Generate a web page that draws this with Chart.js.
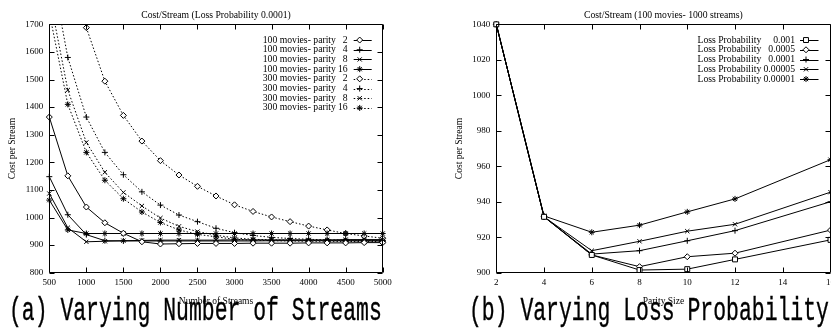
<!DOCTYPE html>
<html><head><meta charset="utf-8">
<script src="https://cdn.jsdelivr.net/npm/chart.js@4.4.1/dist/chart.umd.min.js"></script>
<style>
html,body{margin:0;padding:0;background:#fff;width:831px;height:330px;overflow:hidden;}
body{position:relative;}
.wrap{position:absolute;top:0;width:400px;height:310px;}
#w1{left:0px}
#w2{left:447px}
.cap{position:absolute;top:294px;font-family:"Liberation Mono",monospace;font-size:34px;line-height:34px;white-space:pre;transform-origin:0 0;transform:scaleX(0.63);color:#000;-webkit-text-stroke:0.4px #000;}
#cap1{left:9px}
#cap2{left:469px}
</style></head><body>
<div class="wrap" id="w1"><canvas id="c1" width="400" height="310" style="width:400px;height:310px"></canvas></div>
<div class="wrap" id="w2"><canvas id="c2" width="400" height="310" style="width:400px;height:310px"></canvas></div>
<div class="cap" id="cap1">(a) Varying Number of Streams</div>
<div class="cap" id="cap2">(b) Varying Loss Probability</div>
<script>
// ---------- data: chart (a) ----------
const streams = [500,750,1000,1250,1500,1750,2000,2250,2500,2750,3000,3250,3500,3750,4000,4250,4500,4750,5000];
const m100p2  = [1364,1151,1038,981,943,912,904,905,906,906,906,907,907,907,908,908,908,909,909];
const m100p4  = [1148,1010,938,916,915,915,915,915,915,915,915,915,916,916,916,916,916,916,916];
const m100p8  = [1087,963,912,914,916,917,918,918,918,918,919,919,919,919,919,919,920,920,920];
const m100p16 = [1063,955,942,942,942,942,942,942,942,942,942,942,942,942,942,942,942,942,942];
const m300p2  = [null,null,1688,1494,1370,1277,1206,1154,1113,1078,1046,1022,1002,985,969,955,942,933,925];
const m300p4  = [1938,1580,1364,1236,1155,1093,1045,1009,985,961,945,935,928,924,921,919,918,917,916];
const m300p8  = [1806,1462,1272,1164,1091,1042,998,968,949,936,926,921,919,918,917,916,916,915,915];
const m300p16 = [1742,1410,1236,1135,1068,1020,982,955,939,930,921,918,916,915,914,914,913,913,913];
const seriesA = [m100p2,m100p4,m100p8,m100p16,m300p2,m300p4,m300p8,m300p16];
const keyPrefixA = ['100 movies- parity','100 movies- parity','100 movies- parity','100 movies- parity',
                    '300 movies- parity','300 movies- parity','300 movies- parity','300 movies- parity'];
const keyValueA = ['2','4','8','16','2','4','8','16'];
const xTicksA = [500,1000,1500,2000,2500,3000,3500,4000,4500,5000];
const yTicksA = [800,900,1000,1100,1200,1300,1400,1500,1600,1700];

// ---------- data: chart (b) ----------
const parity = [2,4,6,8,10,12,16];
const loss001    = [1040,931.5,910,901.5,902,907.5,918.5];
const loss0005   = [1040,931.5,910,903.4,909,911,924];
const loss0001   = [1040,931.5,910.5,912.4,918,923.7,940];
const loss00005  = [1040,931.5,912.4,917.7,923.4,927.3,945.4];
const loss00001  = [1040,932,922.8,926.8,934.3,941.6,963.7];
const seriesB = [loss001,loss0005,loss0001,loss00005,loss00001];
const keyValueB = ['0.001','0.0005','0.0001','0.00005','0.00001'];
const xTicksB = [2,4,6,8,10,12,14,16];
const yTicksB = [900,920,940,960,980,1000,1020,1040];

// ---------- styles ----------
const stylesA = [
  {pointStyle:'rectRot',dash:[]},{pointStyle:'cross',dash:[]},{pointStyle:'crossRot',dash:[]},{pointStyle:'star',dash:[]},
  {pointStyle:'rectRot',dash:[1.5,2]},{pointStyle:'cross',dash:[1.5,2]},{pointStyle:'crossRot',dash:[1.5,2]},{pointStyle:'star',dash:[1.5,2]}
];
const stylesB = [{pointStyle:'rect',r:3.5},{pointStyle:'rectRot',r:3},{pointStyle:'cross',r:3},{pointStyle:'crossRot',r:3},{pointStyle:'star',r:3}];

const SERIF = '"Liberation Serif", "Times New Roman", serif';

function fallbackPoint(ctx, style, r, x, y){
  ctx.beginPath();
  if(style==='rect'){const s=r*Math.SQRT1_2; ctx.rect(x-s,y-s,2*s,2*s); ctx.fill(); ctx.stroke(); return;}
  if(style==='rectRot'){ctx.moveTo(x,y-r);ctx.lineTo(x+r,y);ctx.lineTo(x,y+r);ctx.lineTo(x-r,y);ctx.closePath();ctx.fill();ctx.stroke();return;}
  const d=r*Math.SQRT1_2;
  if(style==='cross'||style==='star'){ctx.moveTo(x-r,y);ctx.lineTo(x+r,y);ctx.moveTo(x,y-r);ctx.lineTo(x,y+r);}
  if(style==='crossRot'||style==='star'){ctx.moveTo(x-d,y-d);ctx.lineTo(x+d,y+d);ctx.moveTo(x-d,y+d);ctx.lineTo(x+d,y-d);}
  ctx.stroke();
}

const framePlugin = {
  id:'frame',
  afterDatasetsDraw(chart){
    const {ctx, chartArea:a} = chart;
    const x = chart.scales.x, y = chart.scales.y;
    ctx.save();
    ctx.strokeStyle='#000'; ctx.lineWidth=1; ctx.setLineDash([]);
    const L=Math.round(a.left)+0.5, R=Math.round(a.right)-0.5, T=Math.round(a.top)+0.5, B=Math.round(a.bottom)-0.5;
    const len=5;
    ctx.beginPath();
    ctx.rect(L,T,R-L,B-T);
    x.ticks.forEach(t=>{const px=Math.round(x.getPixelForValue(t.value))+0.5; ctx.moveTo(px,B); ctx.lineTo(px,B-len); ctx.moveTo(px,T); ctx.lineTo(px,T+len);});
    y.ticks.forEach(t=>{const py=Math.round(y.getPixelForValue(t.value))+0.5; ctx.moveTo(L,py); ctx.lineTo(L+len,py); ctx.moveTo(R,py); ctx.lineTo(R-len,py);});
    ctx.stroke();
    ctx.restore();
  }
};

const keyPlugin = {
  id:'key',
  afterDatasetsDraw(chart, args, o){
    const {ctx, chartArea:a} = chart;
    ctx.save();
    chart.data.datasets.forEach((ds,i)=>{
      const yy = a.top + o.top + i*o.step;
      ctx.font = '9.7px ' + SERIF;
      ctx.fillStyle='#000'; ctx.textBaseline='middle';
      ctx.textAlign='left'; ctx.fillText(ds.keyPrefix, a.right - o.prefixOff, yy);
      ctx.textAlign='right'; ctx.fillText(ds.keyValue, a.right - o.textOff, yy);
      const ly = Math.round(yy)+0.5;
      ctx.strokeStyle='#000'; ctx.lineWidth=1;
      ctx.setLineDash(ds.borderDash||[]);
      ctx.beginPath(); ctx.moveTo(a.right-o.lineStart, ly); ctx.lineTo(a.right-o.lineEnd, ly); ctx.stroke();
      ctx.setLineDash([]);
      ctx.fillStyle='#fff';
      const px = a.right - o.markOff;
      if (window.Chart && Chart.helpers && Chart.helpers.drawPoint) {
        Chart.helpers.drawPoint(ctx, {pointStyle: ds.pointStyle, radius: ds.pointRadius, rotation: 0, borderWidth: 1}, px, yy);
      } else {
        fallbackPoint(ctx, ds.pointStyle, ds.pointRadius, px, yy);
      }
    });
    ctx.restore();
  }
};

function makeOptions(cfg){
  return {
    responsive:false, animation:false, devicePixelRatio:1,
    layout:{padding:{left:0,right:cfg.padR,top:0,bottom:0}},
    elements:{line:{tension:0}},
    plugins:{
      legend:{display:false}, tooltip:{enabled:false},
      title:{display:true,text:cfg.title,fullSize:false,color:'#000',
        font:{family:SERIF,size:9.7,weight:'normal'},padding:{top:9.2,bottom:3.5}},
      key:cfg.key
    },
    scales:{
      x:{type:'linear',min:cfg.xMin,max:cfg.xMax,
        grid:{display:false,drawTicks:false},border:{display:false},
        ticks:{color:'#000',font:{family:SERIF,size:9},padding:5,maxRotation:0,autoSkip:false,callback:v=>String(v)},
        afterBuildTicks:s=>{s.ticks = cfg.xTicks.map(v=>({value:v}));},
        afterFit:s=>{s.height=37.3;},
        title:{display:true,text:cfg.xTitle,color:'#000',font:{family:SERIF,size:9.5},padding:{top:0,bottom:2.8}}
      },
      y:{type:'linear',min:cfg.yMin,max:cfg.yMax,
        grid:{display:false,drawTicks:false},border:{display:false},
        ticks:{color:'#000',font:{family:SERIF,size:9},padding:6,autoSkip:false,callback:v=>String(v)},
        afterBuildTicks:s=>{s.ticks = cfg.yTicks.map(v=>({value:v}));},
        afterFit:s=>{s.width=49.3;},
        title:{display:true,text:'Cost per Stream',color:'#000',font:{family:SERIF,size:9.5},padding:{top:6.8,bottom:0}}
      }
    }
  };
}

const dsA = seriesA.map((vals,i)=>({
  label: keyPrefixA[i]+' '+keyValueA[i],
  keyPrefix: keyPrefixA[i], keyValue: keyValueA[i],
  data: streams.map((s,j)=>({x:s,y:vals[j]})),
  borderColor:'#000', borderWidth:1, borderDash:stylesA[i].dash,
  pointStyle:stylesA[i].pointStyle, pointRadius:3, pointBorderWidth:1,
  pointBorderColor:'#000', pointBackgroundColor:'#fff',
  fill:false, spanGaps:false,
  clip:{left:5,right:5,top:0,bottom:5}
}));

const dsB = seriesB.map((vals,i)=>({
  label: 'Loss Probability '+keyValueB[i],
  keyPrefix: 'Loss Probability', keyValue: keyValueB[i],
  data: parity.map((p,j)=>({x:p,y:vals[j]})),
  borderColor:'#000', borderWidth:1, borderDash:[],
  pointStyle:stylesB[i].pointStyle, pointRadius:stylesB[i].r, pointBorderWidth:1,
  pointBorderColor:'#000', pointBackgroundColor:'#fff',
  fill:false,
  clip:{left:5,right:5,top:5,bottom:5}
}));

new Chart(document.getElementById('c1'), {
  type:'line',
  data:{datasets:dsA},
  options:makeOptions({padR:17.3,title:'Cost/Stream (Loss Probability 0.0001)',xTitle:'Number of Streams',
    xMin:500,xMax:5000,yMin:800,yMax:1700,xTicks:xTicksA,yTicks:yTicksA,
    key:{top:15.7,step:9.7,prefixOff:120,textOff:35,lineStart:29,lineEnd:11,markOff:23}}),
  plugins:[framePlugin,keyPlugin]
});

new Chart(document.getElementById('c2'), {
  type:'line',
  data:{datasets:dsB},
  options:makeOptions({padR:16.5,title:'Cost/Stream (100 movies- 1000 streams)',xTitle:'Parity Size',
    xMin:2,xMax:16,yMin:900,yMax:1040,xTicks:xTicksB,yTicks:yTicksB,
    key:{top:15.7,step:9.75,prefixOff:133,textOff:35.5,lineStart:30.5,lineEnd:12,markOff:24.5}}),
  plugins:[framePlugin,keyPlugin]
});
</script>
</body></html>
